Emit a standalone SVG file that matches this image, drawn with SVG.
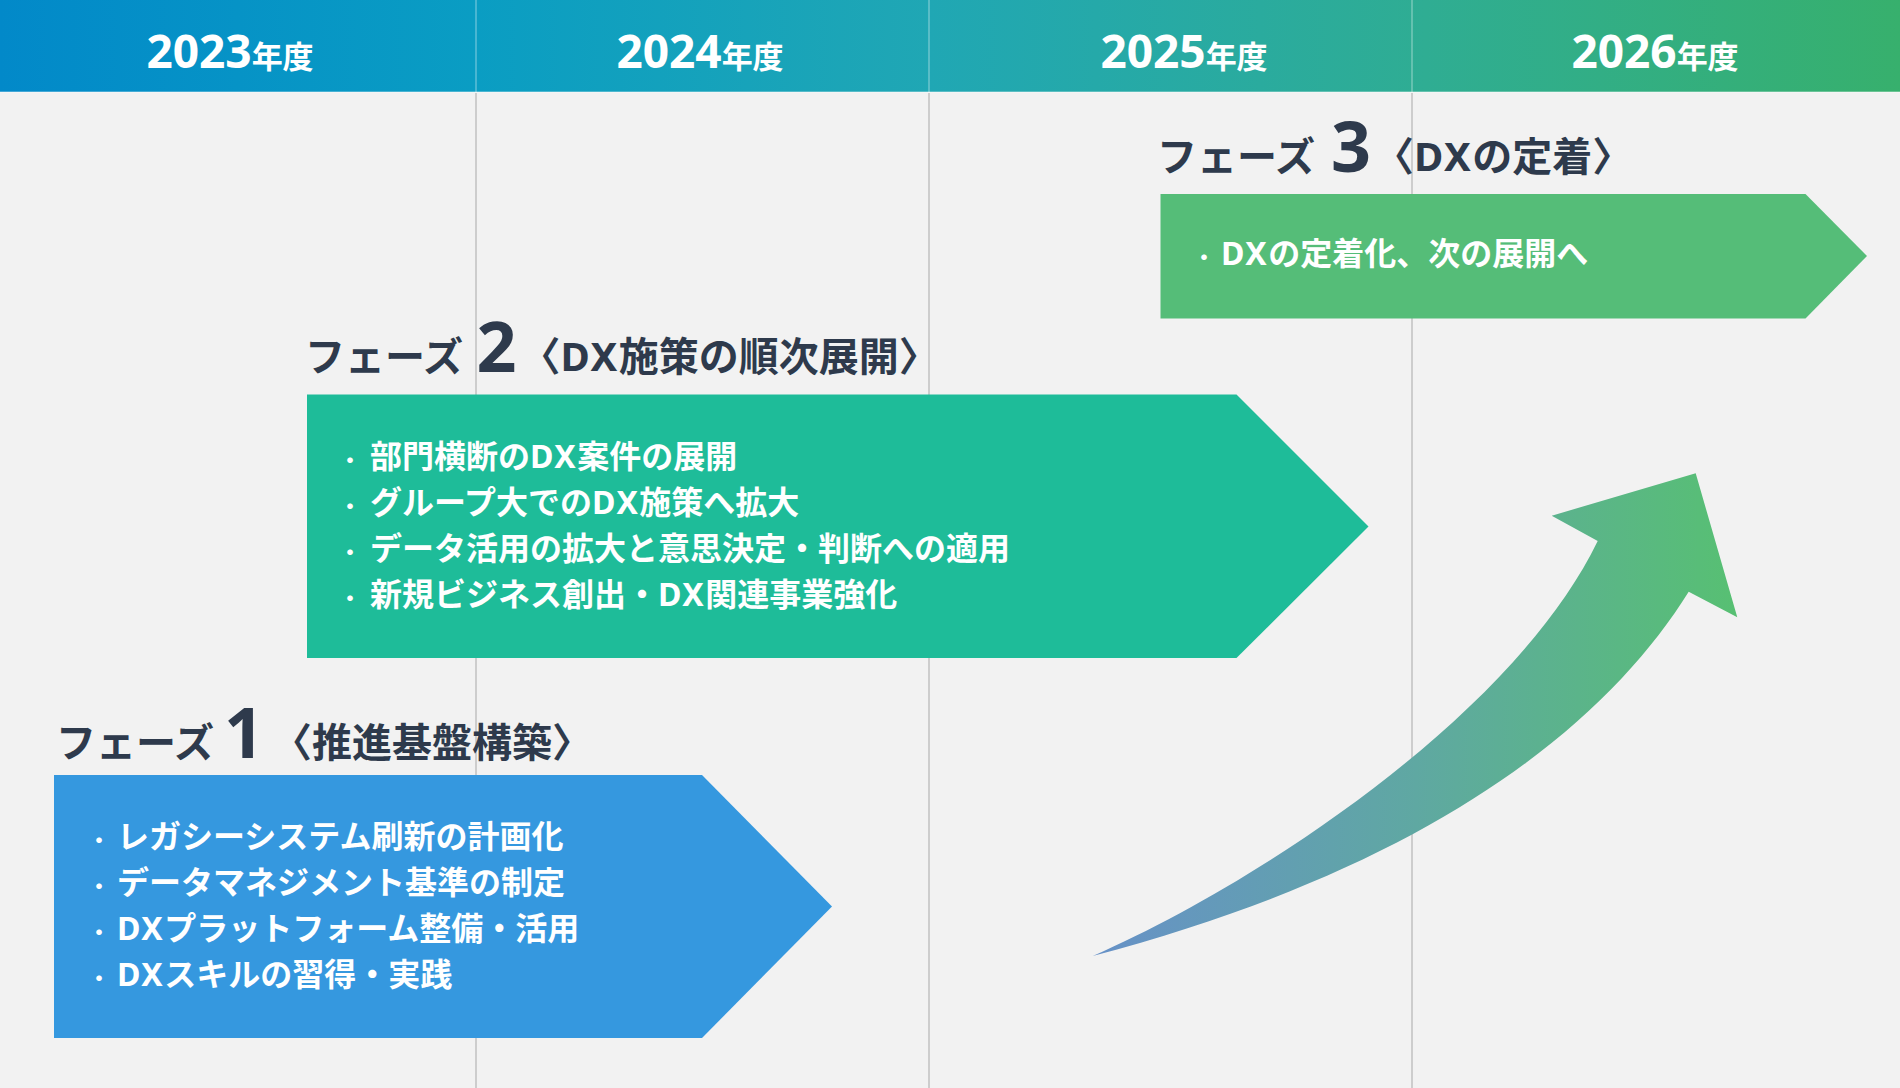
<svg xmlns="http://www.w3.org/2000/svg" width="1900" height="1088" viewBox="0 0 1900 1088">
<defs>
<linearGradient id="hdr" x1="0" y1="0" x2="1900" y2="0" gradientUnits="userSpaceOnUse">
<stop offset="0" stop-color="#0289C9"/>
<stop offset="0.25" stop-color="#0A9DC3"/>
<stop offset="0.49" stop-color="#20A7B4"/>
<stop offset="0.75" stop-color="#2FAD93"/>
<stop offset="1" stop-color="#37B06D"/>
</linearGradient>
<linearGradient id="grow" x1="1092" y1="0" x2="1740" y2="0" gradientUnits="userSpaceOnUse">
<stop offset="0" stop-color="#6791C8"/>
<stop offset="0.5" stop-color="#5FA8A2"/>
<stop offset="1" stop-color="#57C072"/>
</linearGradient>
</defs>
<style>
.year{font-family:"Noto Sans","Noto Sans CJK JP",sans-serif;font-weight:700;fill:#ffffff;text-anchor:middle}
.year .k{font-family:"Noto Sans CJK JP",sans-serif;font-size:31px}
.hdiv{stroke:#ffffff;stroke-opacity:0.35;stroke-width:1.5}
.div{stroke:#cdcdcd;stroke-width:2}
.ttl{font-family:"Noto Sans CJK JP",sans-serif;font-weight:700;fill:#2E3A4C;font-size:40px}
.num{font-family:"Noto Sans","Noto Sans CJK JP",sans-serif;font-weight:700;fill:#2E3A4C;font-size:70px;text-anchor:middle}
.item{font-family:"Noto Sans CJK JP",sans-serif;font-weight:700;fill:#ffffff;font-size:32px}
.lat{font-family:"Noto Sans","Noto Sans CJK JP",sans-serif;letter-spacing:1.5px}
.bul{font-family:"Noto Sans CJK JP",sans-serif;font-weight:700;fill:#ffffff;font-size:22px;text-anchor:middle}
</style>
<rect x="0" y="0" width="1900" height="1088" fill="#F2F2F2"/>
<g id="header">
<rect x="0" y="0" width="1900" height="92" fill="url(#hdr)"/>
<line class="hdiv" x1="0" y1="92" x2="1900" y2="92"/>
<line class="hdiv" x1="476" y1="0" x2="476" y2="92"/>
<line class="hdiv" x1="929" y1="0" x2="929" y2="92"/>
<line class="hdiv" x1="1412" y1="0" x2="1412" y2="92"/>
<g id="year-2023"><text class="year" x="230" y="68" font-size="46">2023<tspan class="k">年度</tspan></text></g>
<g id="year-2024"><text class="year" x="700" y="68" font-size="46">2024<tspan class="k">年度</tspan></text></g>
<g id="year-2025"><text class="year" x="1184" y="68" font-size="46">2025<tspan class="k">年度</tspan></text></g>
<g id="year-2026"><text class="year" x="1655" y="68" font-size="46">2026<tspan class="k">年度</tspan></text></g>
</g>
<g id="gridlines">
<line class="div" x1="476" y1="93" x2="476" y2="1088"/>
<line class="div" x1="929" y1="93" x2="929" y2="1088"/>
<line class="div" x1="1412" y1="93" x2="1412" y2="1088"/>
</g>
<g id="phase3">
<text class="ttl" x="1157" y="171">フェーズ</text>
<text class="num" x="1351" y="172">3</text>
<text class="ttl" x="1374" y="171">〈<tspan class="lat" letter-spacing="1px">DX</tspan>の定着〉</text>
<polygon points="1160.5,194 1805.5,194 1867,256 1805.5,318.5 1160.5,318.5" fill="#55BD78"/>
<text class="bul" x="1204" y="265">・</text>
<text class="item" x="1221" y="265"><tspan class="lat">DX</tspan>の定着化、次の展開へ</text>
</g>
<g id="phase2">
<text class="ttl" x="305" y="371">フェーズ</text>
<text class="num" x="496.5" y="372">2</text>
<text class="ttl" x="520.5" y="371">〈<tspan class="lat" letter-spacing="1px">DX</tspan>施策の順次展開〉</text>
<polygon points="307,394.5 1236.5,394.5 1368.5,526.5 1236.5,658 307,658" fill="#1EBC99"/>
<text class="bul" x="350" y="468">・</text>
<text class="item" x="370" y="468">部門横断の<tspan class="lat">DX</tspan>案件の展開</text>
<text class="bul" x="350" y="514">・</text>
<text class="item" x="370" y="514">グループ大での<tspan class="lat">DX</tspan>施策へ拡大</text>
<text class="bul" x="350" y="560">・</text>
<text class="item" x="370" y="560">データ活用の拡大と意思決定・判断への適用</text>
<text class="bul" x="350" y="606">・</text>
<text class="item" x="370" y="606">新規ビジネス創出・<tspan class="lat">DX</tspan>関連事業強化</text>
</g>
<g id="phase1">
<text class="ttl" x="56" y="757">フェーズ</text>
<text class="num" x="244" y="758">1</text>
<text class="ttl" x="272" y="757">〈推進基盤構築〉</text>
<polygon points="54,775 702,775 832,906.5 702,1038 54,1038" fill="#3598DF"/>
<text class="bul" x="99" y="848">・</text>
<text class="item" x="117" y="848">レガシーシステム刷新の計画化</text>
<text class="bul" x="99" y="894">・</text>
<text class="item" x="117" y="894">データマネジメント基準の制定</text>
<text class="bul" x="99" y="940">・</text>
<text class="item" x="117" y="940"><tspan class="lat">DX</tspan>プラットフォーム整備・活用</text>
<text class="bul" x="99" y="986">・</text>
<text class="item" x="117" y="986"><tspan class="lat">DX</tspan>スキルの習得・実践</text>
</g>
<g id="connectors">
<path id="growth-arrow" d="M1092.7,956 C1265,880 1515,712 1597.7,541 L1551.7,515.7 L1695.7,473.3 L1737.3,617.3 L1688.7,591.7 C1605,726 1430,867 1092.7,956 Z" fill="url(#grow)"/>
</g>
</svg>
